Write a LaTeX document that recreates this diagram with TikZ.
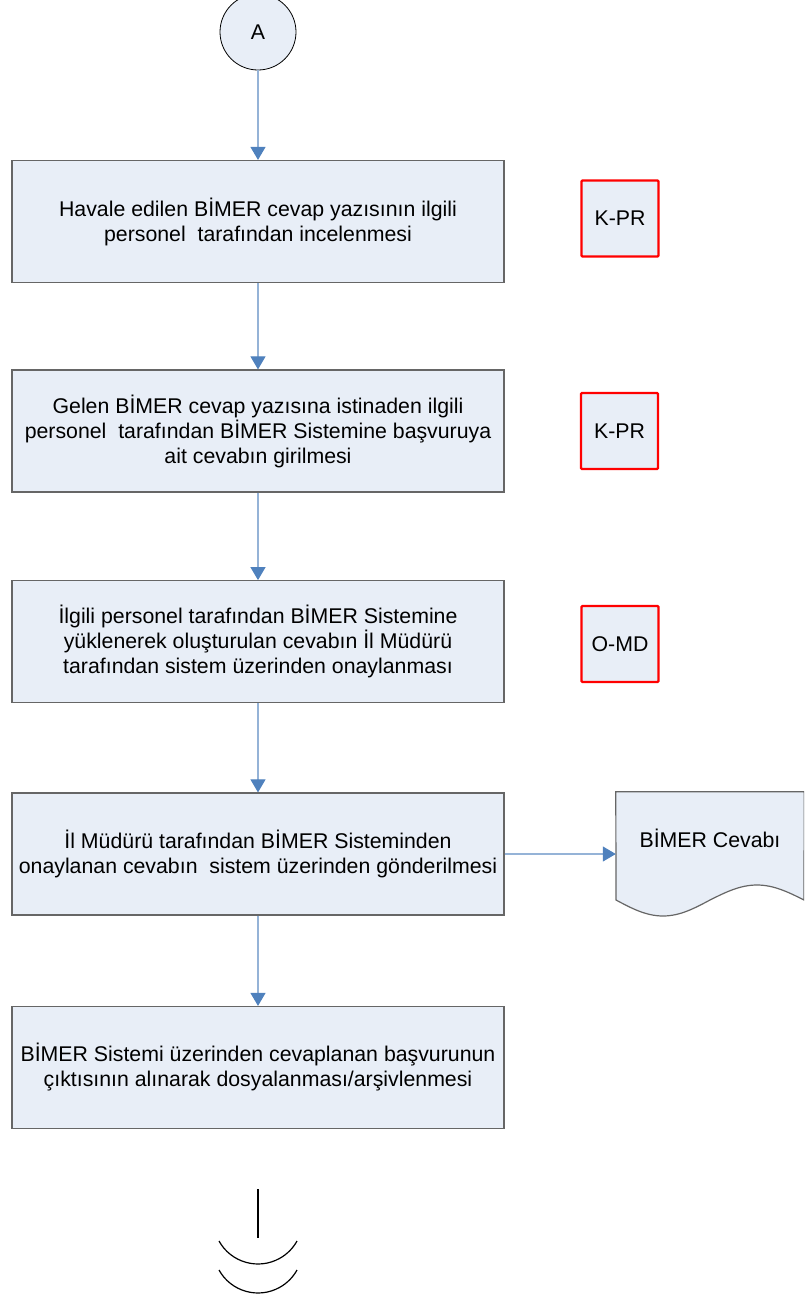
\documentclass[tikz,border=0pt]{standalone}
\usepackage{fontspec}
\setmainfont{Liberation Sans}
\usetikzlibrary{arrows.meta}
\definecolor{boxfill}{RGB}{232,238,247}
\definecolor{boxline}{RGB}{102,102,102}
\definecolor{linkline}{RGB}{149,179,215}
\definecolor{tipblue}{RGB}{79,129,189}
\definecolor{redline}{RGB}{255,0,0}
\begin{document}
\begin{tikzpicture}[x=1pt,y=-1pt,
  txt/.style={font=\fontsize{21.3}{25}\selectfont},
  stepbox/.style={txt, draw=boxline, line width=1.2pt, fill=boxfill, minimum width=492pt, minimum height=122pt, inner sep=0pt, align=center},
  refbox/.style={txt, draw=redline, line width=2.4pt, fill=boxfill, rounded corners=1pt, minimum width=77pt, minimum height=76pt, inner sep=0pt},
  flow/.style={draw=linkline, line width=1.1pt, -{Triangle[length=13pt,width=15pt,color=tipblue]}},
  endmark/.style={draw=black, line width=1.2pt},
]
\useasboundingbox (0,0) rectangle (804,1299);
\clip (0,0) rectangle (804,1299);

\node[txt, circle, draw=black, line width=0.8pt, fill=boxfill, minimum size=76pt, inner sep=0pt] (A) at (258,32) {A};

\node[stepbox] (b1) at (258,221.5) {Havale edilen BİMER cevap yazısının ilgili\\personel\ \ tarafından incelenmesi};
\node[stepbox] (b2) at (258,431) {Gelen BİMER cevap yazısına istinaden ilgili\\personel\ \ tarafından BİMER Sistemine başvuruya\\ait cevabın girilmesi};
\node[stepbox] (b3) at (258,641.7) {İlgili personel tarafından BİMER Sistemine\\yüklenerek oluşturulan cevabın İl Müdürü\\tarafından sistem üzerinden onaylanması};
\node[stepbox] (b4) at (258,854) {İl Müdürü tarafından BİMER Sisteminden\\onaylanan cevabın\ \ sistem üzerinden gönderilmesi};
\node[stepbox] (b5) at (258,1067.5) {BİMER Sistemi üzerinden cevaplanan başvurunun\\çıktısının alınarak dosyalanması/arşivlenmesi};

\node[refbox] (r1) at (620,218.5) {K-PR};
\node[refbox] (r2) at (619.5,431) {K-PR};
\node[refbox] (r3) at (620,644) {O-MD};

\node[inner sep=0pt, minimum width=188pt, minimum height=124pt] (doc) at (710,854) {};
\draw[draw=boxline, line width=1.2pt, fill=boxfill] (doc.north west) -- (doc.north east) -- (804,900) sin (757,885) cos (710,900) sin (663,916) cos (616,900) -- cycle;
\node[txt, inner sep=0pt] (doctext) at (710,838) {BİMER Cevabı};

\draw[flow] (A) -- (b1);
\draw[flow] (b1) -- (b2);
\draw[flow] (b2) -- (b3);
\draw[flow] (b3) -- (b4);
\draw[flow] (b4) -- (doc);
\draw[flow] (b4) -- (b5);

\draw[endmark] (258,1189) -- (258,1238);
\draw[endmark] (219,1241) arc[start angle=151, end angle=29, radius=44.6];
\draw[endmark] (219,1270) arc[start angle=151, end angle=29, radius=44.6];
\end{tikzpicture}
\end{document}
